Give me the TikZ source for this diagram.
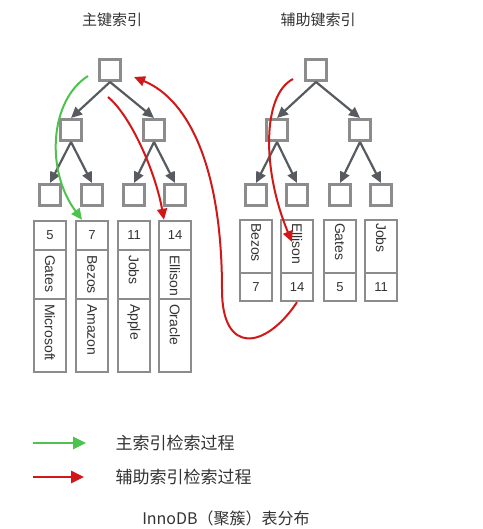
\documentclass[tikz,border=0pt]{standalone}
\usepackage{fontspec}
\setmainfont{Liberation Sans}
\newfontfamily\cjk{Noto Sans CJK SC}
\usetikzlibrary{arrows.meta}
\definecolor{boxgray}{HTML}{8C8C8C}
\definecolor{arrowgray}{HTML}{575B5F}
\definecolor{pathred}{HTML}{D01818}
\definecolor{pathgreen}{HTML}{4EC24E}
\definecolor{txtgray}{HTML}{333333}

\begin{document}
\begin{tikzpicture}[x=1pt,y=-1pt,
    treebox/.style={draw=boxgray,line width=3pt,fill=white,minimum size=21pt,inner sep=0pt},
    cell/.style={draw=boxgray,line width=2.4pt,minimum width=32pt,inner sep=0pt,text=txtgray,font=\fontsize{13}{13}\selectfont},
    vtext/.style={rotate=-90,anchor=west,inner sep=0pt,text=txtgray,font=\fontsize{14}{14}\selectfont},
    treearrow/.style={draw=arrowgray,line width=2.2pt,-{Triangle[length=11pt,width=10pt]}},
    walk/.style={line width=2pt,-{Triangle[length=11pt,width=10pt]}},
    title/.style={text=txtgray,font=\cjk\fontsize{15}{15}\selectfont},
    legend/.style={anchor=west,text=txtgray,font=\cjk\fontsize{17}{17}\selectfont}]
      \useasboundingbox (0,0) rectangle (482,529);
      \node[title] (t1) at (112,20) {主键索引};
      \node[title] (t2) at (318,20) {辅助键索引};
      \node[treebox] (r1) at (110,70) {};
      \node[treebox] (a1) at (71,130) {};
      \node[treebox] (a2) at (154,130) {};
      \foreach \x [count=\i] in {50,92,134,175}
        \node[treebox] (b\i) at (\x,195) {};
      \node[treebox] (r2) at (316,70) {};
      \node[treebox] (c1) at (277,130) {};
      \node[treebox] (c2) at (360,130) {};
      \foreach \x [count=\i] in {256,297,340,381}
        \node[treebox] (d\i) at (\x,195) {};
      \foreach \p/\c in {r1/a1,r1/a2,a1/b1,a1/b2,a2/b3,a2/b4,r2/c1,r2/c2,c1/d1,c1/d2,c2/d3,c2/d4}
        \draw[treearrow] (\p.south) -- (\c.north);
      \foreach \x/\n/\k/\v [count=\i] in {50/5/Gates/Microsoft,92/7/Bezos/Amazon,134/11/Jobs/Apple,175/14/Ellison/Oracle}{
        \node[cell,minimum height=29pt] (pn\i) at (\x,235.5) {\n};
        \node[cell,minimum height=49pt] (pk\i) at (\x,274.5) {};
        \node[cell,minimum height=73pt] (pv\i) at (\x,335.5) {};
        \node[vtext] at ([yshift=-6pt]pk\i.north) {\k};
        \node[vtext] at ([yshift=-6pt]pv\i.north) {\v};
      }
      \foreach \x/\k/\n [count=\i] in {256/Bezos/7,297/Ellison/14,340/Gates/5,381/Jobs/11}{
        \node[cell,minimum height=53pt] (qk\i) at (\x,246.5) {};
        \node[cell,minimum height=28pt] (qn\i) at (\x,287) {\n};
        \node[vtext] at ([yshift=-4pt]qk\i.north) {\k};
      }
      \coordinate (gs) at (88,76);
      \coordinate (rs) at (108,97);
      \coordinate (rt) at (134,77);
      \coordinate (ss) at (293,79);
      \coordinate (se) at (292,242);
      \draw[walk,pathgreen] (gs) .. controls (50,100) and (45,170) .. ([xshift=-10pt]pn2.north);
      \draw[walk,pathred] (rs) .. controls (130,115) and (155,170) .. ([xshift=-11pt]pn4.north);
      \draw[walk,pathred] (ss) .. controls (262,95) and (262,170) .. (se);
      \draw[walk,pathred] (qn2.south) .. controls (265,350) and (222,355) .. (222,290)
        .. controls (222,170) and (190,100) .. (rt);
      \node[legend] (gl) at (112,443) {主索引检索过程};
      \node[legend] (rl) at (112,477) {辅助索引检索过程};
      \coordinate (g0) at (33,443);
      \coordinate (r0) at (33,477);
      \draw[walk,pathgreen,line width=2.6pt,-{Triangle[length=13pt,width=12pt]}] (g0) -- ([xshift=-26pt]gl.west);
      \draw[walk,pathred,line width=2.6pt,-{Triangle[length=13pt,width=12pt]}] (r0) -- ([xshift=-28pt]rl.west);
      \node[text=txtgray,font=\cjk\fontsize{16}{16}\selectfont] (cap) at (226,518) {InnoDB（聚簇）表分布};
    \end{tikzpicture}
\end{document}
